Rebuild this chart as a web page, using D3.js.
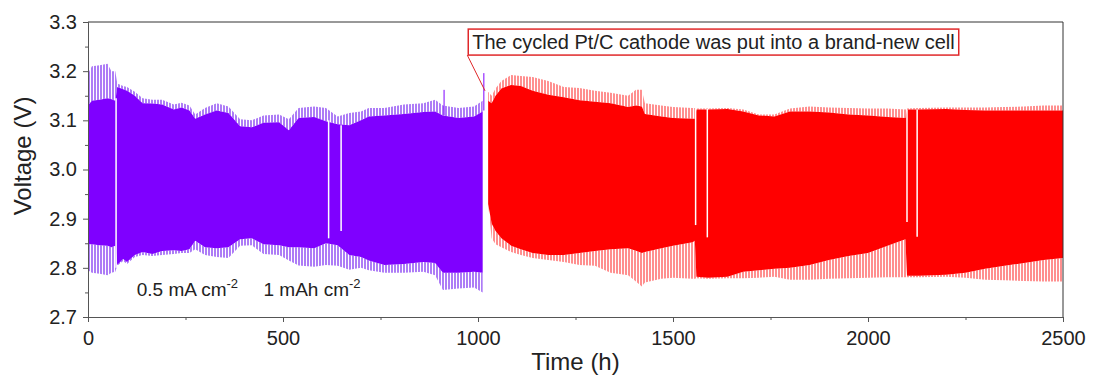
<!DOCTYPE html>
<html>
<head>
<meta charset="utf-8">
<script src="https://cdn.jsdelivr.net/npm/d3@7"></script>
<style>
body { margin: 0; background: #fff; }
text { font-family: "Liberation Sans", Arial, sans-serif; fill: #222; }
</style>
</head>
<body>
<div id="chart"></div>
<script>
// envelope of the cycling curve
// columns: time (h), spike tips top, solid top, solid bottom, spike tips bottom
var purpleData = [
    [0, 3.195, 3.130, 2.848, 2.795], [10, 3.210, 3.140, 2.848, 2.790], [30, 3.212, 3.142, 2.846, 2.788],
    [50, 3.215, 3.145, 2.845, 2.785], [60, 3.200, 3.143, 2.842, 2.790], [70, 3.200, 3.140, 2.845, 2.792],
    [75, 3.175, 3.168, 2.806, 2.804], [90, 3.170, 3.163, 2.818, 2.814], [100, 3.168, 3.160, 2.812, 2.808],
    [120, 3.158, 3.150, 2.826, 2.822], [140, 3.145, 3.135, 2.832, 2.826], [165, 3.142, 3.134, 2.828, 2.824],
    [190, 3.142, 3.132, 2.834, 2.826], [220, 3.132, 3.122, 2.836, 2.828], [240, 3.136, 3.126, 2.834, 2.830],
    [260, 3.130, 3.120, 2.838, 2.830], [275, 3.112, 3.103, 2.855, 2.838], [300, 3.125, 3.112, 2.842, 2.826],
    [330, 3.135, 3.120, 2.840, 2.822], [360, 3.128, 3.115, 2.842, 2.820], [390, 3.102, 3.088, 2.858, 2.845],
    [420, 3.100, 3.086, 2.860, 2.846], [450, 3.110, 3.095, 2.848, 2.828], [490, 3.112, 3.096, 2.846, 2.826],
    [515, 3.102, 3.080, 2.842, 2.815], [540, 3.125, 3.105, 2.842, 2.805], [580, 3.128, 3.107, 2.840, 2.802],
    [610, 3.125, 3.098, 2.850, 2.806], [640, 3.108, 3.092, 2.846, 2.804], [670, 3.115, 3.090, 2.826, 2.796],
    [700, 3.118, 3.100, 2.822, 2.800], [720, 3.125, 3.108, 2.815, 2.795], [760, 3.125, 3.110, 2.806, 2.790],
    [810, 3.132, 3.113, 2.808, 2.790], [860, 3.135, 3.117, 2.812, 2.792], [890, 3.142, 3.118, 2.810, 2.785],
    [910, 3.130, 3.110, 2.790, 2.755], [950, 3.125, 3.105, 2.790, 2.758], [990, 3.128, 3.108, 2.792, 2.760],
    [1012, 3.140, 3.118, 2.790, 2.750]
];

var redData = [
    [1026, 3.158, 3.140, 2.930, 2.930], [1035, 3.150, 3.135, 2.890, 2.860], [1045, 3.165, 3.150, 2.875, 2.848],
    [1060, 3.180, 3.165, 2.860, 2.842], [1085, 3.192, 3.172, 2.845, 2.832], [1110, 3.190, 3.170, 2.838, 2.826],
    [1140, 3.188, 3.160, 2.830, 2.820], [1180, 3.180, 3.152, 2.826, 2.816], [1220, 3.168, 3.147, 2.826, 2.812],
    [1260, 3.166, 3.141, 2.830, 2.806], [1300, 3.160, 3.138, 2.834, 2.804], [1340, 3.156, 3.135, 2.838, 2.790],
    [1385, 3.150, 3.127, 2.840, 2.785], [1405, 3.162, 3.130, 2.835, 2.772], [1420, 3.162, 3.128, 2.830, 2.762],
    [1428, 3.135, 3.113, 2.832, 2.770], [1470, 3.130, 3.108, 2.840, 2.778], [1500, 3.127, 3.105, 2.845, 2.780],
    [1550, 3.125, 3.103, 2.852, 2.778], [1556, 3.125, 3.103, 2.855, 2.778], [1560, 3.124, 3.122, 2.782, 2.779],
    [1590, 3.124, 3.122, 2.780, 2.778], [1640, 3.125, 3.123, 2.782, 2.779], [1680, 3.122, 3.118, 2.792, 2.779],
    [1720, 3.112, 3.110, 2.795, 2.780], [1760, 3.112, 3.108, 2.798, 2.782], [1800, 3.124, 3.118, 2.800, 2.776],
    [1850, 3.128, 3.118, 2.806, 2.776], [1900, 3.126, 3.116, 2.816, 2.778], [1950, 3.125, 3.112, 2.824, 2.779],
    [2000, 3.124, 3.110, 2.830, 2.780], [2050, 3.124, 3.107, 2.845, 2.781], [2096, 3.122, 3.105, 2.858, 2.781],
    [2100, 3.124, 3.122, 2.784, 2.781], [2130, 3.125, 3.122, 2.784, 2.781], [2200, 3.126, 3.123, 2.786, 2.782],
    [2250, 3.126, 3.121, 2.790, 2.780], [2300, 3.126, 3.120, 2.798, 2.776], [2350, 3.127, 3.120, 2.804, 2.775],
    [2400, 3.128, 3.120, 2.810, 2.773], [2450, 3.130, 3.120, 2.816, 2.772], [2500, 3.130, 3.120, 2.820, 2.772]
];

// interruptions in the record: time, top, bottom
var purpleGaps = [[72, 3.145, 2.800], [617, 3.100, 2.860], [649, 3.090, 2.875]];
var redGaps    = [[1558, 3.125, 2.887], [1588, 3.123, 2.862], [2100, 3.122, 2.893], [2126, 3.122, 2.863]];

// single tall spikes: time, top, bottom
var purpleSpikes = [[913, 3.162, 3.110], [1015, 3.196, 3.120]];

var xTicks = [0, 500, 1000, 1500, 2000, 2500];
var xMinor = [250, 750, 1250, 1750, 2250];
var yTicks = [2.7, 2.8, 2.9, 3.0, 3.1, 3.2, 3.3];
var yMinor = [2.75, 2.85, 2.95, 3.05, 3.15, 3.25];

var noteText  = "The cycled Pt/C cathode was put into a brand-new cell";
var noteAt    = [975, 3.2856];   // top-left corner of the box
var noteArrow = [1018, 3.16];    // arrow tip

var width  = 1093;
var height = 379;
var margin = {left: 88, right: 30, top: 22, bottom: 62};
var w = width - margin.left - margin.right;
var h = height - margin.top - margin.bottom;

var x = d3.scaleLinear().domain([0, 2500]).range([0, w]);
var y = d3.scaleLinear().domain([2.7, 3.3]).range([h, 0]);

var svg = d3.select("#chart").append("svg").attr("width", width).attr("height", height);
var defs = svg.append("defs");

function stripes(id, color) {
    var p = defs.append("pattern").attr("id", id).attr("patternUnits", "userSpaceOnUse")
        .attr("width", 3).attr("height", 10);
    p.append("rect").attr("width", 3).attr("height", 10).attr("fill", "#fff");
    p.append("rect").attr("width", 2).attr("height", 10).attr("fill", color);
}
stripes("fringePurple", "#ad7cf6");
stripes("fringeRed", "#ff8f8f");

defs.append("clipPath").attr("id", "plotClip").append("rect").attr("width", w).attr("height", h);

var g = svg.append("g").attr("transform", "translate(" + margin.left + "," + margin.top + ")");
var plot = g.append("g").attr("clip-path", "url(#plotClip)");

function band(data, color, fringe) {
    var outerTop = d3.area().x(function(d){return x(d[0]);}).y0(function(d){return y(d[2]);}).y1(function(d){return y(d[1]);});
    var outerBot = d3.area().x(function(d){return x(d[0]);}).y0(function(d){return y(d[4]);}).y1(function(d){return y(d[3]);});
    var solid    = d3.area().x(function(d){return x(d[0]);}).y0(function(d){return y(d[3]);}).y1(function(d){return y(d[2]);});
    plot.append("path").attr("d", outerTop(data)).attr("fill", "url(#" + fringe + ")");
    plot.append("path").attr("d", outerBot(data)).attr("fill", "url(#" + fringe + ")");
    plot.append("path").attr("d", solid(data)).attr("fill", color);
}

band(purpleData, "#7f00ff", "fringePurple");
band(redData, "#ff0000", "fringeRed");

plot.selectAll(".spike").data(purpleSpikes).enter().append("line")
    .attr("x1", function(d){return x(d[0]);}).attr("x2", function(d){return x(d[0]);})
    .attr("y1", function(d){return y(d[1]);}).attr("y2", function(d){return y(d[2]);})
    .attr("stroke", "#7f00ff").attr("stroke-width", 1);

plot.selectAll(".gap").data(purpleGaps.concat(redGaps)).enter().append("line")
    .attr("x1", function(d){return x(d[0]);}).attr("x2", function(d){return x(d[0]);})
    .attr("y1", function(d){return y(d[1]);}).attr("y2", function(d){return y(d[2]);})
    .attr("stroke", "#fff").attr("stroke-width", 1.5);

// frame
g.append("line").attr("x1", 0).attr("x2", w).attr("y1", 0).attr("y2", 0).attr("stroke", "#333");
g.append("line").attr("x1", w).attr("x2", w).attr("y1", 0).attr("y2", h).attr("stroke", "#333");

var xAxis = d3.axisBottom(x).tickValues(xTicks).tickSize(5).tickPadding(9).tickFormat(d3.format("d"));
var yAxis = d3.axisLeft(y).tickValues(yTicks).tickSize(5).tickPadding(6).tickFormat(d3.format(".1f"));

var xa = g.append("g").attr("transform", "translate(0," + h + ")").call(xAxis);
var ya = g.append("g").call(yAxis);
g.append("g").attr("transform", "translate(0," + h + ")")
    .call(d3.axisBottom(x).tickValues(xMinor).tickSize(3).tickFormat(""));
g.append("g").call(d3.axisLeft(y).tickValues(yMinor).tickSize(3).tickFormat(""));

g.selectAll(".domain").attr("stroke", "#555");
g.selectAll(".tick line").attr("stroke", "#555");
xa.selectAll("text").style("font-size", "20px").attr("fill", "#222");
ya.selectAll("text").style("font-size", "20px").attr("fill", "#222");

svg.append("text").attr("x", margin.left + w / 2).attr("y", 370).attr("text-anchor", "middle")
    .style("font-size", "24px").text("Time (h)");
svg.append("text").attr("transform", "translate(31," + 156 + ") rotate(-90)").attr("text-anchor", "middle")
    .style("font-size", "24px").text("Voltage (V)");

// condition label
var cond = g.append("text").attr("x", x(125)).attr("y", y(2.742)).style("font-size", "19px");
cond.append("tspan").text("0.5 mA cm");
cond.append("tspan").attr("dy", -8).style("font-size", "13px").text("-2");
cond.append("tspan").attr("x", x(450)).attr("dy", 8).text("1 mAh cm");
cond.append("tspan").attr("dy", -8).style("font-size", "13px").text("-2");

// annotation box with arrow
var bx = x(noteAt[0]), by = y(noteAt[1]);
var box = g.append("rect").attr("x", bx).attr("y", by).attr("height", 26)
    .attr("fill", "#fff").attr("stroke", "#e0282a").attr("stroke-width", 1.5);
var note = g.append("text").attr("x", bx + 4).attr("y", by + 19.5).style("font-size", "20px").text(noteText);
box.attr("width", note.node().getComputedTextLength() + 8);
g.append("line").attr("x1", bx - 1).attr("y1", by + 26).attr("x2", x(noteArrow[0])).attr("y2", y(noteArrow[1]))
    .attr("stroke", "#e0282a").attr("stroke-width", 1);
</script>
</body>
</html>
